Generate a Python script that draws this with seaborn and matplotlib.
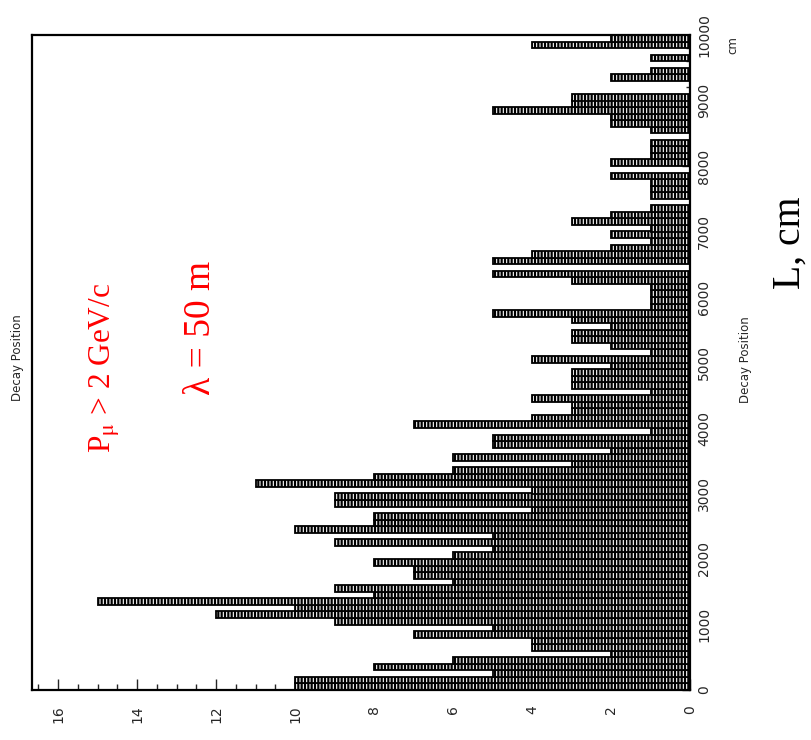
import numpy as np
import pandas as pd
import matplotlib
matplotlib.use("Agg")
import matplotlib.pyplot as plt
import seaborn as sns

# ---- data: decay position histogram, 100 bins of 100 cm (0 .. 10000 cm)
bin_width_cm = 100
counts = [
    10, 10, 5, 8, 6, 2, 4, 4, 7, 5,      # 0 - 1000
    9, 12, 10, 15, 8, 9, 6, 7, 7, 8,     # 1000 - 2000
    6, 5, 9, 5, 10, 8, 8, 4, 9, 9,       # 2000 - 3000
    4, 11, 8, 6, 3, 6, 2, 5, 5, 1,       # 3000 - 4000
    7, 4, 3, 3, 4, 1, 3, 3, 3, 2,        # 4000 - 5000
    4, 1, 2, 3, 3, 2, 3, 5, 1, 1,        # 5000 - 6000
    1, 1, 3, 5, 0, 5, 4, 2, 1, 2,        # 6000 - 7000
    1, 3, 2, 1, 0, 1, 1, 1, 2, 0,        # 7000 - 8000
    2, 1, 1, 1, 0, 1, 2, 2, 5, 3,        # 8000 - 9000
    3, 0, 0, 2, 1, 0, 1, 0, 4, 2,        # 9000 - 10000
]
count_ticks = [0, 2, 4, 6, 8, 10, 12, 14, 16]
position_ticks = [0, 1000, 2000, 3000, 4000, 5000, 6000, 7000, 8000, 9000, 10000]
title = "Decay Position"
axis_label = "Decay Position"
unit_label = "cm"
note_momentum = r"P$_{\mathrm{\mu}}$ > 2 GeV/c"
note_lambda = "λ = 50 m"
side_label = "L, cm"

centers = np.arange(len(counts)) * bin_width_cm + bin_width_cm / 2
df = pd.DataFrame({"position": centers, "count": counts})

sns.set_style("white")
plt.rcParams["font.family"] = ["Liberation Sans Narrow", "DejaVu Sans"]
plt.rcParams["mathtext.fontset"] = "stix"
plt.rcParams["hatch.linewidth"] = 1.6
plt.rcParams["hatch.color"] = "black"

fig = plt.figure(figsize=(8.11, 7.40), dpi=100)
ax = fig.add_axes([32 / 811, 50 / 740, (690 - 32) / 811, (690 - 35) / 740])

sns.histplot(data=df, y="position", weights="count", binwidth=bin_width_cm,
             binrange=(0, 10000), ax=ax, stat="count", element="bars",
             fill=True, color="white", edgecolor="black", linewidth=1.3,
             hatch="|||||", alpha=1)

ax.set_xlim(16.66, 0)
ax.set_ylim(0, 10000)
ax.set_xticks(count_ticks)
ax.set_xticks(np.arange(0, 16.6, 0.5), minor=True)
ax.set_yticks(position_ticks)
ax.set_yticks(np.arange(0, 10001, 200), minor=True)
ax.yaxis.tick_right()
ax.tick_params(axis="x", which="major", direction="in", length=8, width=1,
               labelsize=10, labelrotation=90, pad=11, bottom=True, top=False)
ax.tick_params(axis="x", which="minor", direction="in", length=4, width=1,
               bottom=True, top=False)
ax.tick_params(axis="y", which="major", direction="in", length=6, width=1,
               labelsize=10, labelrotation=90, pad=5, right=True, left=False)
ax.tick_params(axis="y", which="minor", direction="in", length=3, width=1,
               right=True, left=False)
for lab in ax.get_yticklabels():
    lab.set_va("center")
ax.set_xlabel("")
ax.set_ylabel("")
for s in ax.spines.values():
    s.set_linewidth(1.6)
    s.set_color("black")

fig.text(18 / 811, 1 - 358 / 740, title, rotation=90, ha="center", va="center", fontsize=8.5)
fig.text(745 / 811, 1 - 360 / 740, axis_label, rotation=90, ha="center", va="center", fontsize=8.5)
fig.text(733 / 811, 1 - 45 / 740, unit_label, rotation=90, ha="center", va="center", fontsize=8.5)

fig.text(105 / 811, 1 - 368 / 740, note_momentum, rotation=90, ha="center", va="center",
         color="red", fontsize=22.5, family="Liberation Serif")
fig.text(201 / 811, 1 - 328 / 740, note_lambda, rotation=90, ha="center", va="center",
         color="red", fontsize=27, family="Liberation Serif")
fig.text(790 / 811, 1 - 243 / 740, side_label, rotation=90, ha="center", va="center",
         color="black", fontsize=28.5, family="Liberation Serif")

fig.savefig("out.png", dpi=100)
